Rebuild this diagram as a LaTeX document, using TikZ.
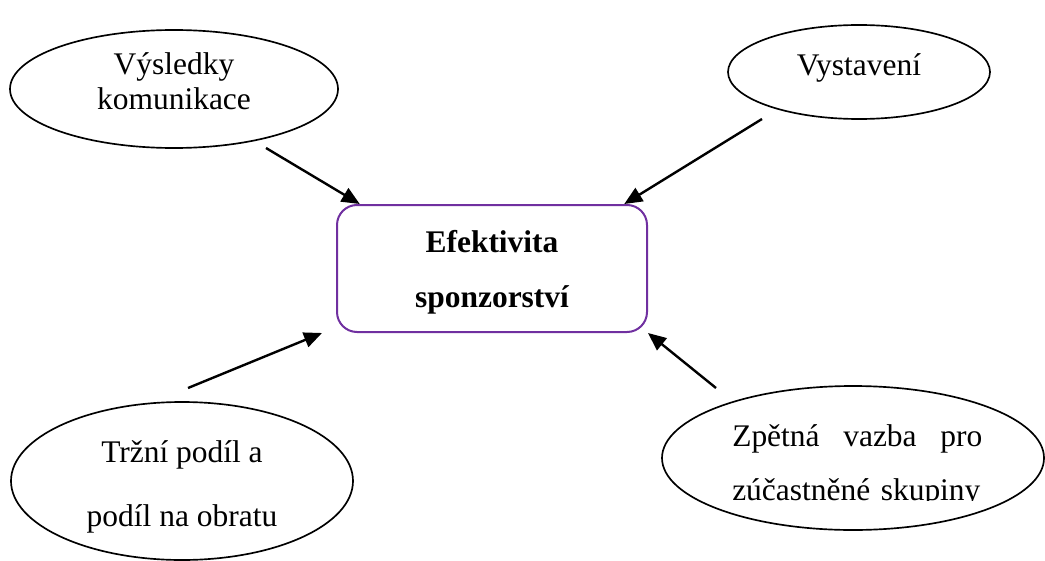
\documentclass[tikz,border=0pt]{standalone}
\usepackage{fontspec}
\setmainfont{Liberation Serif}
\usepackage{tikz}
\usetikzlibrary{arrows.meta,shapes.geometric}
\definecolor{plum}{HTML}{7030A0}
\newcommand{\lift}[1]{\rule[-#1]{0pt}{0pt}}
\newcommand{\drop}[1]{\rule{0pt}{#1}}
\tikzset{
  >={Triangle[length=13.5pt,width=11.5pt]},
  flow/.style={->,line width=1.8pt,draw=black},
  oval/.style={ellipse,draw=black,line width=1.25pt,inner sep=0pt,align=center,
    font=\fontsize{23.6}{26.25}\selectfont},
  goalbox/.style={rounded corners=15pt,draw=plum,line width=1.5pt,inner sep=0pt,
    align=center,font=\fontsize{23.6}{41.25}\selectfont\bfseries}
}
\begin{document}
\begin{tikzpicture}[x=0.75pt,y=-0.75pt]
  \useasboundingbox (0,0) rectangle (1045,560);
  \node[goalbox,minimum width=232.5pt,minimum height=95.25pt] (eff) at (492,268.5) {\drop{22.5pt}Efektivita\\sponzorství};
  \node[oval,minimum width=246pt,minimum height=88.5pt] (results) at (174,89) {Výsledky\\komunikace\lift{12pt}};
  \node[oval,minimum width=196.5pt,minimum height=70.5pt] (expo) at (859,72) {Vystavení\lift{11pt}};
  \node[oval,minimum width=256.5pt,minimum height=118.5pt,font=\fontsize{23.6}{48}\selectfont] (share) at (182,481) {\drop{25pt}Tržní podíl a\\podíl na obratu};
  \node[oval,minimum width=286.5pt,minimum height=108pt] (feedback) at (853,458) {};
  % text box of the last oval is cut off at the bottom
  \begin{scope}
    \clip (660,380) rectangle (1045,500);
    \node[anchor=west,inner sep=0pt,text width=188pt,align=left,
      font=\fontsize{23.6}{40}\selectfont] (feedbackText) at (732,466)
      {\makebox[187.5pt]{Zpětná\hfill vazba\hfill pro}\\zúčastněné skupiny};
  \end{scope}
  \coordinate (resultsFrom) at (266,148);
  \coordinate (expoFrom) at (762,119);
  \coordinate (shareFrom) at (188,388);
  \coordinate (feedbackFrom) at (716,388);
  \draw[flow] (resultsFrom) -- (eff.154);
  \draw[flow] (expoFrom) -- (eff.26);
  \draw[flow] (shareFrom) -- ([xshift=-10.5pt]eff.south west);
  \draw[flow] (feedbackFrom) -- (eff.south east);
\end{tikzpicture}
\end{document}
